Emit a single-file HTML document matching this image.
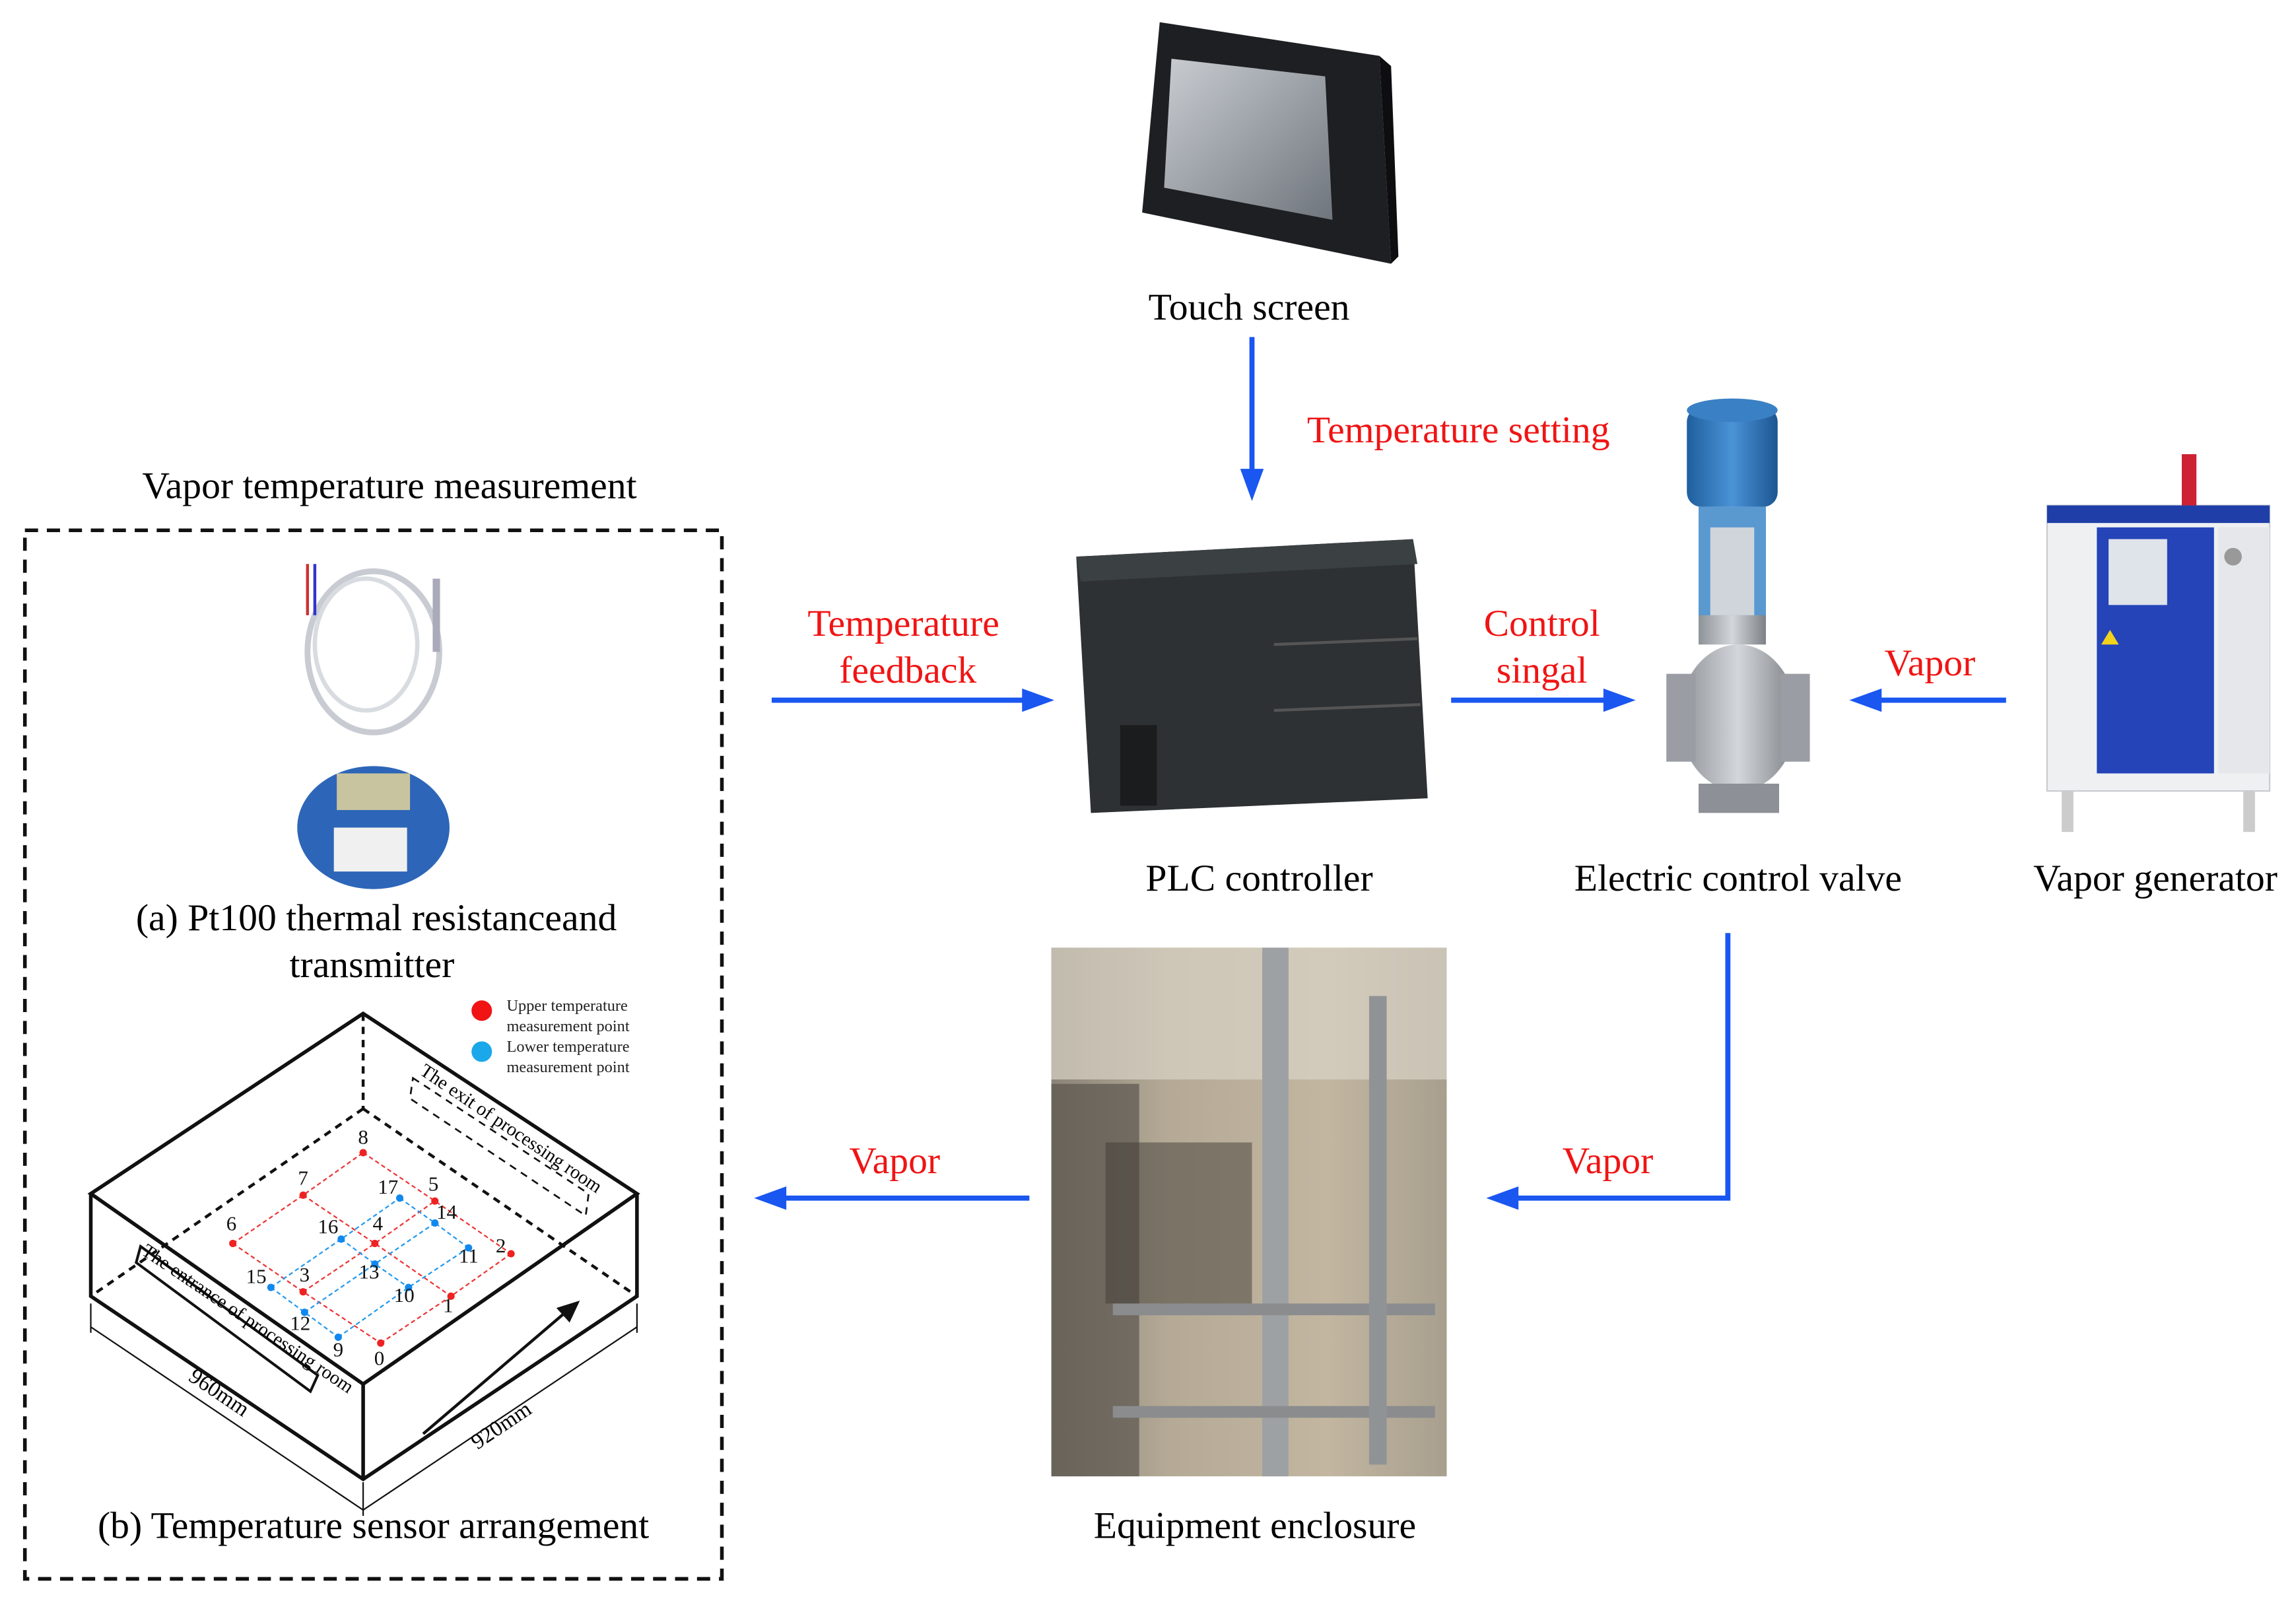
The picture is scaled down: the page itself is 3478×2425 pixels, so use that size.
<!DOCTYPE html>
<html><head><meta charset="utf-8"><style>
html,body{margin:0;padding:0;background:#fff;}
svg{display:block;}
text{font-family:"Liberation Serif",serif;}
</style></head><body>
<svg width="3478" height="2425" viewBox="0 0 1568 1093" xmlns="http://www.w3.org/2000/svg">
<defs>
<linearGradient id="scr" x1="0" y1="0" x2="1" y2="1"><stop offset="0" stop-color="#c9cdd2"/><stop offset="1" stop-color="#6f757c"/></linearGradient>
<linearGradient id="encl" x1="0" y1="0" x2="1" y2="0"><stop offset="0" stop-color="#8a8478"/><stop offset="0.3" stop-color="#b5aa96"/><stop offset="0.7" stop-color="#c2b6a1"/><stop offset="1" stop-color="#a89f8e"/></linearGradient>
<linearGradient id="valveb" x1="0" y1="0" x2="1" y2="0"><stop offset="0" stop-color="#8e9399"/><stop offset="0.5" stop-color="#d3d6da"/><stop offset="1" stop-color="#7d8187"/></linearGradient>
<linearGradient id="act" x1="0" y1="0" x2="1" y2="0"><stop offset="0" stop-color="#1f5f9e"/><stop offset="0.5" stop-color="#4a93d6"/><stop offset="1" stop-color="#1c5592"/></linearGradient>
</defs>

<polygon points="792,15 942,38 950,180 780,145" fill="#1e1f22"/>
<polygon points="942,38 950,45 955,175 950,180" fill="#0e0e10"/>
<polygon points="800,40 905,52 910,150 795,128" fill="url(#scr)"/>
<text x="853" y="218" font-size="26" text-anchor="middle">Touch screen</text>

<line x1="855" y1="230" x2="855" y2="322" stroke="#1a56f0" stroke-width="3.5"/>
<polygon points="847,320 863,320 855,342" fill="#1a56f0"/>
<text x="996" y="302" font-size="26" fill="#f01414" text-anchor="middle">Temperature setting</text>

<polygon points="735,380 965,368 975,545 745,555" fill="#2d3133"/>
<polygon points="735,380 965,368 968,385 738,397" fill="#3b4043"/>
<rect x="765" y="495" width="25" height="55" fill="#1a1c1d"/>
<line x1="870" y1="440" x2="968" y2="436" stroke="#555" stroke-width="2"/>
<line x1="870" y1="485" x2="970" y2="481" stroke="#555" stroke-width="2"/>
<text x="860" y="608" font-size="26" text-anchor="middle">PLC controller</text>

<text x="617" y="434" font-size="26" fill="#f01414" text-anchor="middle">Temperature</text>
<text x="620" y="466" font-size="26" fill="#f01414" text-anchor="middle">feedback</text>
<line x1="527" y1="478" x2="700" y2="478" stroke="#1a56f0" stroke-width="3.5"/>
<polygon points="698,470 698,486 720,478" fill="#1a56f0"/>

<text x="1053" y="434" font-size="26" fill="#f01414" text-anchor="middle">Control</text>
<text x="1053" y="466" font-size="26" fill="#f01414" text-anchor="middle">singal</text>
<line x1="991" y1="478" x2="1097" y2="478" stroke="#1a56f0" stroke-width="3.5"/>
<polygon points="1095,470 1095,486 1117,478" fill="#1a56f0"/>

<rect x="1152" y="278" width="62" height="68" rx="10" fill="url(#act)"/>
<ellipse cx="1183" cy="280" rx="31" ry="8" fill="#3a80c4"/>
<rect x="1160" y="346" width="46" height="80" fill="#3d86c8" opacity="0.85"/>
<rect x="1168" y="360" width="30" height="60" fill="#cfd5da"/>
<rect x="1160" y="420" width="46" height="20" fill="url(#valveb)"/>
<ellipse cx="1187" cy="490" rx="40" ry="50" fill="url(#valveb)"/>
<rect x="1138" y="460" width="20" height="60" fill="#9a9ea4"/>
<rect x="1216" y="460" width="20" height="60" fill="#9a9ea4"/>
<rect x="1160" y="535" width="55" height="20" fill="#8d9197"/>
<text x="1187" y="608" font-size="26" text-anchor="middle">Electric control valve</text>

<text x="1318" y="461" font-size="26" fill="#f01414" text-anchor="middle">Vapor</text>
<line x1="1370" y1="478" x2="1283" y2="478" stroke="#1a56f0" stroke-width="3.5"/>
<polygon points="1285,470 1285,486 1263,478" fill="#1a56f0"/>

<rect x="1398" y="345" width="152" height="195" fill="#eef0f2" stroke="#c9ccd0"/>
<rect x="1398" y="345" width="152" height="12" fill="#1f3ea8"/>
<rect x="1432" y="360" width="80" height="168" fill="#2444b8"/>
<rect x="1440" y="368" width="40" height="45" fill="#dfe3ea"/>
<polygon points="1435,440 1441,430 1447,440" fill="#f2d21c"/>
<rect x="1515" y="360" width="35" height="168" fill="#e5e7ea"/>
<circle cx="1525" cy="380" r="6" fill="#999"/>
<rect x="1408" y="540" width="8" height="28" fill="#ccc"/>
<rect x="1532" y="540" width="8" height="28" fill="#ccc"/>
<rect x="1490" y="310" width="10" height="35" fill="#c23"/>
<text x="1472" y="608" font-size="26" text-anchor="middle">Vapor generator</text>

<polyline points="1180,637 1180,818 1035,818" fill="none" stroke="#1a56f0" stroke-width="3.5"/>
<polygon points="1037,810 1037,826 1015,818" fill="#1a56f0"/>
<text x="1098" y="801" font-size="26" fill="#f01414" text-anchor="middle">Vapor</text>

<rect x="718" y="647" width="270" height="361" fill="url(#encl)"/>
<rect x="718" y="647" width="270" height="90" fill="#d8d3c6" opacity="0.7"/>
<rect x="718" y="740" width="60" height="268" fill="#5b564e" opacity="0.7"/>
<rect x="862" y="647" width="18" height="361" fill="#9ea1a3"/>
<rect x="755" y="780" width="100" height="110" fill="#3f3b36" opacity="0.5"/>
<rect x="760" y="890" width="220" height="8" fill="#8a8c8e"/>
<rect x="760" y="960" width="220" height="8" fill="#8a8c8e"/>
<rect x="935" y="680" width="12" height="320" fill="#909396"/>
<text x="857" y="1050" font-size="26" text-anchor="middle">Equipment enclosure</text>

<line x1="703" y1="818" x2="535" y2="818" stroke="#1a56f0" stroke-width="3.5"/>
<polygon points="537,810 537,826 515,818" fill="#1a56f0"/>
<text x="611" y="801" font-size="26" fill="#f01414" text-anchor="middle">Vapor</text>

<text x="266" y="340" font-size="26" text-anchor="middle">Vapor temperature measurement</text>
<rect x="17" y="362" width="476" height="716" fill="none" stroke="#111" stroke-width="2.5" stroke-dasharray="9,6"/>

<ellipse cx="255" cy="445" rx="45" ry="55" fill="none" stroke="#c8ccd2" stroke-width="4"/>
<ellipse cx="250" cy="440" rx="35" ry="45" fill="none" stroke="#d8dce0" stroke-width="3"/>
<line x1="298" y1="395" x2="298" y2="445" stroke="#aab" stroke-width="5"/>
<line x1="210" y1="385" x2="210" y2="420" stroke="#c33" stroke-width="2"/>
<line x1="215" y1="385" x2="215" y2="420" stroke="#33c" stroke-width="2"/>
<ellipse cx="255" cy="565" rx="52" ry="42" fill="#2d66b8"/>
<rect x="230" y="528" width="50" height="25" fill="#c9c4a0"/>
<rect x="228" y="565" width="50" height="30" fill="#f0f0f0"/>
<text x="257" y="635" font-size="26" text-anchor="middle">(a) Pt100 thermal resistanceand</text>
<text x="254" y="667" font-size="26" text-anchor="middle">transmitter</text>

<g fill="none" stroke="#111">
<polygon points="248,692 62,815 248,945 435,815" stroke-width="2.5"/>
<polyline points="62,815 62,885 248,1010 435,885 435,815" stroke-width="2.5"/>
<line x1="248" y1="945" x2="248" y2="1010" stroke-width="2.5"/>
<g stroke-dasharray="5,4" stroke-width="2">
<line x1="248" y1="692" x2="248" y2="757"/>
<line x1="248" y1="757" x2="62" y2="885"/>
<line x1="248" y1="757" x2="435" y2="885"/>
<polygon points="282,736 402,815 400,830 280,750" stroke-width="1.2"/>
</g>
<line x1="62" y1="890" x2="62" y2="910" stroke-width="1"/>
<line x1="62" y1="906" x2="248" y2="1031" stroke-width="1"/>
<line x1="248" y1="1031" x2="435" y2="906" stroke-width="1"/>
<line x1="248" y1="1012" x2="248" y2="1035" stroke-width="1"/>
<line x1="435" y1="890" x2="435" y2="910" stroke-width="1"/>
<polygon points="96,851 217,939 212,950 93,862" stroke-width="1.8"/>
<line x1="289" y1="979" x2="385" y2="897" stroke-width="2"/>
</g>
<polygon points="380,893 396,888 389,903" fill="#111"/>
<g fill="none" stroke="#e33" stroke-width="1" stroke-dasharray="3,2">
<polyline points="159,849 207,816 248,787"/><polyline points="207,882 256,849 297,820"/><polyline points="260,917 308,885 349,856"/>
<polyline points="159,849 207,882 260,917"/><polyline points="207,816 256,849 308,885"/><polyline points="248,787 297,820 349,856"/>
</g>
<g fill="none" stroke="#29e" stroke-width="1" stroke-dasharray="3,2">
<polyline points="185,879 233,846 273,818"/><polyline points="208,896 256,863 297,835"/><polyline points="231,913 279,879 320,852"/>
<polyline points="185,879 208,896 231,913"/><polyline points="233,846 256,863 279,879"/><polyline points="273,818 297,835 320,852"/>
</g>
<g fill="#e22">
<circle cx="248" cy="787" r="2.5"/><circle cx="207" cy="816" r="2.5"/><circle cx="159" cy="849" r="2.5"/><circle cx="297" cy="820" r="2.5"/><circle cx="256" cy="849" r="2.5"/><circle cx="207" cy="882" r="2.5"/><circle cx="349" cy="856" r="2.5"/><circle cx="308" cy="885" r="2.5"/><circle cx="260" cy="917" r="2.5"/>
</g>
<g fill="#18e">
<circle cx="273" cy="818" r="2.5"/><circle cx="297" cy="835" r="2.5"/><circle cx="320" cy="852" r="2.5"/><circle cx="233" cy="846" r="2.5"/><circle cx="256" cy="863" r="2.5"/><circle cx="279" cy="879" r="2.5"/><circle cx="185" cy="879" r="2.5"/><circle cx="208" cy="896" r="2.5"/><circle cx="231" cy="913" r="2.5"/>
</g>
<g font-size="14" fill="#111" text-anchor="middle">
<text x="248" y="781">8</text><text x="207" y="809">7</text><text x="158" y="840">6</text><text x="296" y="813">5</text><text x="258" y="840">4</text><text x="208" y="875">3</text><text x="342" y="855">2</text><text x="306" y="896">1</text><text x="259" y="932">0</text>
<text x="265" y="815">17</text><text x="305" y="832">14</text><text x="320" y="862">11</text><text x="224" y="842">16</text><text x="252" y="873">13</text><text x="276" y="889">10</text><text x="175" y="876">15</text><text x="205" y="908">12</text><text x="231" y="926">9</text>
</g>
<circle cx="329" cy="690" r="7" fill="#f01414"/>
<circle cx="329" cy="718" r="7" fill="#1aa8ea"/>
<g font-size="11" fill="#222">
<text x="346" y="690">Upper temperature</text><text x="346" y="704">measurement point</text>
<text x="346" y="718">Lower temperature</text><text x="346" y="732">measurement point</text>
</g>
<text x="0" y="0" font-size="13" transform="translate(286,733) rotate(34)">The exit of processing room</text>
<text x="0" y="0" font-size="13" transform="translate(96,856) rotate(34)">The entrance of processing room</text>
<text x="0" y="0" font-size="15" transform="translate(128,942) rotate(34)">960mm</text>
<text x="0" y="0" font-size="15" transform="translate(326,990) rotate(-34)">920mm</text>
<text x="255" y="1050" font-size="26" text-anchor="middle">(b) Temperature sensor arrangement</text>
</svg>
</body></html>
